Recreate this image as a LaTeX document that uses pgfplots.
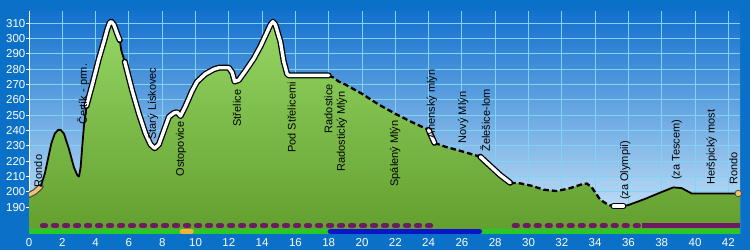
\documentclass[border=0pt]{standalone}
\usepackage{fontspec}
\setmainfont{Liberation Sans}
\usepackage{pgfplots}
\pgfplotsset{compat=1.18}

\definecolor{outerbg}{RGB}{11,112,200}
\definecolor{skytop}{RGB}{18,112,206}
\definecolor{skybot}{RGB}{210,234,250}
\definecolor{gridc}{RGB}{130,210,245}
\definecolor{greentop}{RGB}{148,214,100}
\definecolor{greenbot}{RGB}{98,158,46}
\definecolor{purp}{RGB}{110,28,98}
\definecolor{barg}{RGB}{40,200,40}
\definecolor{barb}{RGB}{10,20,200}
\definecolor{baro}{RGB}{240,180,60}
\definecolor{startc}{RGB}{242,196,106}

\tikzset{
  lbl/.style={rotate=90, anchor=west, inner sep=0pt, font=\fontsize{11bp}{13bp}\selectfont},
}

\begin{document}
\begin{tikzpicture}
\useasboundingbox (0,0) rectangle (750bp,250bp);
\fill[outerbg] (0,0) rectangle (750bp,250bp);
\begin{axis}[
  at={(29bp,16bp)}, anchor=south west,
  scale only axis, width=711bp, height=223bp,
  xmin=0, xmax=42.7, ymin=172.6, ymax=318,
  xtick={0,2,...,42}, ytick={190,200,...,310},
  grid=major, major grid style={gridc, line width=1bp},
  axis background/.style={shade, top color=skytop, bottom color=skybot},
  axis x line*=bottom, axis y line*=left,
  axis line style={white, line width=1bp, -},
  tick align=outside, major tick length=2.5bp,
  ytick style={white, line width=1bp}, xtick style={draw=none},
  ticklabel style={font=\fontsize{11.5bp}{13bp}\selectfont, text=white},
  /pgf/number format/assume math mode=true,
  yticklabel style={inner sep=1bp},
  xticklabel style={inner sep=2bp},
]
% terrain fill
\addplot[draw=none, shade, top color=greentop, bottom color=greenbot] coordinates {
(0,172.6) (0,198) (0.35,200) (0.7,203.5) (0.95,212) (1.15,222) (1.35,232) (1.55,238) (1.75,240.5) (1.9,240.5) (2.1,238) (2.4,228) (2.7,216) (2.9,211) (3.0,210) (3.1,216) (3.2,230) (3.3,243) (3.45,256)
(3.8,270) (4.2,287) (4.5,298) (4.7,306) (4.85,310.5) (4.95,311) (5.1,309) (5.3,303) (5.45,299)
(5.55,292) (5.75,285)
(6.2,266) (6.6,251) (7.0,238) (7.3,231) (7.55,228.5) (7.8,231) (8.1,240) (8.4,249) (8.7,251.5) (8.9,252) (9.1,249.5) (9.4,256) (9.8,266) (10.1,272) (10.6,277) (11.1,280) (11.4,281) (12.0,281) (12.2,278) (12.35,272) (12.6,273) (13.0,279) (13.5,287) (13.9,295) (14.2,302) (14.5,309) (14.65,311) (14.8,309) (15.1,298) (15.3,285) (15.5,277) (15.6,276) (18.0,276)
(18.3,274.5) (18.6,272) (19.0,270) (20.0,264) (21.0,257) (22.0,251) (23.0,245.5) (24.0,240.5)
(24.35,232)
(25.0,229.5) (26.0,226.5) (27.1,223)
(27.6,218) (28.3,211) (28.9,206)
(29.5,205.6) (30.2,204) (30.9,201.5) (31.7,200.6) (32.5,202.5) (33.2,205) (33.5,205.5) (33.8,203) (34.3,195) (34.8,191.5) (35.1,190.8)
(35.7,190.8)
(36.0,191.5) (37.0,195.5) (38.0,200) (38.7,203) (39.2,202.5) (39.8,199) (42.6,199) (42.7,199) (42.7,172.6)
} -- cycle;

% bottom bars
\addplot[barg, line width=5bp] coordinates {(0,174.3) (42.7,174.3)};
\addplot[baro, line width=5bp, line cap=round] coordinates {(9.2,174.3) (9.75,174.3)};
\addplot[barb, line width=5.5bp, line cap=round] coordinates {(18.1,174.3) (27.05,174.3)};
\addplot[purp, line width=5.5bp, line cap=round, dash pattern=on 2.8bp off 8.2bp] coordinates {(0.82,178.1) (24.5,178.1)};
\addplot[purp, line width=5.5bp, line cap=round, dash pattern=on 2.8bp off 8.2bp] coordinates {(29.15,178.1) (36.7,178.1)};
\addplot[purp, line width=5.5bp] coordinates {(36.8,178.1) (42.7,178.1)};

% profile line segments
\addplot[black!70, line width=6bp, line cap=round, line join=round] coordinates {(0,198) (0.35,200) (0.7,203.5)};
\addplot[startc, line width=3.5bp, line cap=round, line join=round] coordinates {(0,198) (0.35,200) (0.7,203.5)};
\addplot[black, line width=1.8bp, line join=round] coordinates {(0.7,203.5) (0.95,212) (1.15,222) (1.35,232) (1.55,238) (1.75,240.5) (1.9,240.5) (2.1,238) (2.4,228) (2.7,216) (2.9,211) (3.0,210) (3.1,216) (3.2,230) (3.3,243) (3.45,256)};
\addplot[black, line width=1.8bp, line join=round] coordinates {(5.45,299) (5.55,292) (5.75,285)};
\addplot[black, line width=1.8bp, line join=round] coordinates {(35.7,190.8) (36.0,191.5) (37.0,195.5) (38.0,200) (38.7,203) (39.2,202.5) (39.8,199) (42.6,199)};
\addplot[black, line width=2.3bp, dash pattern=on 5.5bp off 3bp] coordinates {(18.0,276) (18.3,274.5) (18.6,272) (19.0,270) (20.0,264) (21.0,257) (22.0,251) (23.0,245.5) (24.0,240.5)};
\addplot[black, line width=2.3bp, dash pattern=on 5.5bp off 3bp] coordinates {(24.35,232) (25.0,229.5) (26.0,226.5) (27.1,223)};
\addplot[black, line width=2.3bp, dash pattern=on 5.5bp off 3bp] coordinates {(28.9,206) (29.5,205.6) (30.2,204) (30.9,201.5) (31.7,200.6) (32.5,202.5) (33.2,205) (33.5,205.5) (33.8,203) (34.3,195) (34.8,191.5) (35.1,190.8)};
\addplot[black, line width=6bp, line cap=round, line join=round] coordinates {(3.45,256) (3.8,270) (4.2,287) (4.5,298) (4.7,306) (4.85,310.5) (4.95,311) (5.1,309) (5.3,303) (5.45,299)};
\addplot[white, line width=3.4bp, line cap=round, line join=round] coordinates {(3.45,256) (3.8,270) (4.2,287) (4.5,298) (4.7,306) (4.85,310.5) (4.95,311) (5.1,309) (5.3,303) (5.45,299)};
\addplot[black, line width=6bp, line cap=round, line join=round] coordinates {(5.75,285) (6.2,266) (6.6,251) (7.0,238) (7.3,231) (7.55,228.5) (7.8,231) (8.1,240) (8.4,249) (8.7,251.5) (8.9,252) (9.1,249.5) (9.4,256) (9.8,266) (10.1,272) (10.6,277) (11.1,280) (11.4,281) (12.0,281) (12.2,278) (12.35,272) (12.6,273) (13.0,279) (13.5,287) (13.9,295) (14.2,302) (14.5,309) (14.65,311) (14.8,309) (15.1,298) (15.3,285) (15.5,277) (15.6,276) (18.0,276)};
\addplot[white, line width=3.4bp, line cap=round, line join=round] coordinates {(5.75,285) (6.2,266) (6.6,251) (7.0,238) (7.3,231) (7.55,228.5) (7.8,231) (8.1,240) (8.4,249) (8.7,251.5) (8.9,252) (9.1,249.5) (9.4,256) (9.8,266) (10.1,272) (10.6,277) (11.1,280) (11.4,281) (12.0,281) (12.2,278) (12.35,272) (12.6,273) (13.0,279) (13.5,287) (13.9,295) (14.2,302) (14.5,309) (14.65,311) (14.8,309) (15.1,298) (15.3,285) (15.5,277) (15.6,276) (18.0,276)};
\addplot[black, line width=6bp, line cap=round] coordinates {(24.0,240.5) (24.35,232)};
\addplot[white, line width=3.4bp, line cap=round] coordinates {(24.0,240.5) (24.35,232)};
\addplot[black, line width=6bp, line cap=round, line join=round] coordinates {(27.1,223) (27.6,218) (28.3,211) (28.9,206)};
\addplot[white, line width=3.4bp, line cap=round, line join=round] coordinates {(27.1,223) (27.6,218) (28.3,211) (28.9,206)};
\addplot[black, line width=6bp, line cap=round] coordinates {(35.1,190.8) (35.7,190.8)};
\addplot[white, line width=3.4bp, line cap=round] coordinates {(35.1,190.8) (35.7,190.8)};
\addplot[only marks, mark=*, mark size=3.3bp, mark options={fill=startc, draw=black!70, line width=0.8bp}] coordinates {(42.6,199)};

\node[lbl] at (axis cs:0.55,203) {Rondo};
\node[lbl] at (axis cs:3.25,243.6) {Čertík - prm.};
\node[lbl] at (axis cs:7.45,234) {Starý Lískovec};
\node[lbl] at (axis cs:9.13,210) {Ostopovice};
\node[lbl] at (axis cs:12.48,242.6) {Střelice};
\node[lbl] at (axis cs:15.78,225.4) {Pod Střelicemi};
\node[lbl] at (axis cs:17.99,238.2) {Radostice};
\node[lbl] at (axis cs:18.79,213.2) {Radostický Mlýn};
\node[lbl] at (axis cs:22.0,203.4) {Spálený Mlýn};
\node[lbl] at (axis cs:24.2,235) {Anenský mlýn};
\node[lbl] at (axis cs:26.08,231.7) {Nový Mlýn};
\node[lbl] at (axis cs:27.4,226.2) {Želešice-lom};
\node[lbl] at (axis cs:35.8,194.7) {(za Olympií)};
\node[lbl] at (axis cs:38.9,207.8) {(za Tescem)};
\node[lbl] at (axis cs:41.0,204.5) {Heršpický most};
\node[lbl] at (axis cs:42.3,204.5) {Rondo};
\end{axis}
\end{tikzpicture}
\end{document}
